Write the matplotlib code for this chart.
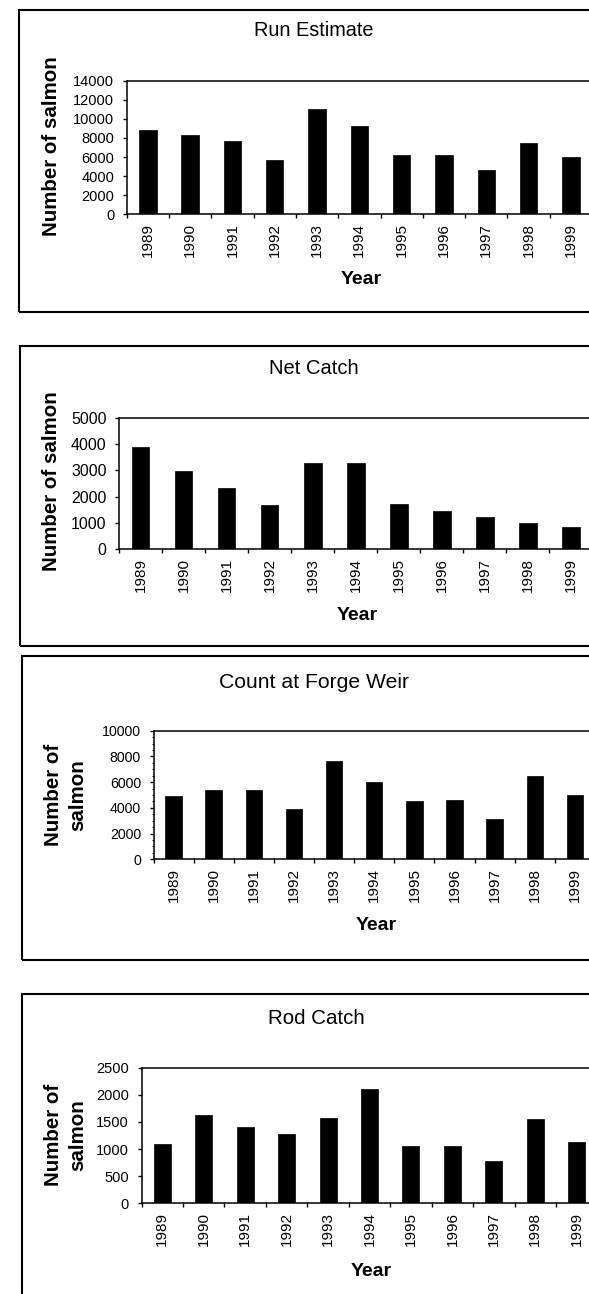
"""Salmon counts 1989-1999: four stacked Excel-style bar panels, each in its own box."""

import matplotlib
matplotlib.use("Agg")
import matplotlib.pyplot as plt
from matplotlib.patches import Rectangle
from matplotlib.ticker import FixedLocator, MultipleLocator

plt.rcParams["font.family"] = ["Liberation Sans", "DejaVu Sans"]

W, H = 589, 1294          # output size in pixels (dpi 100)

years = [str(y) for y in range(1989, 2000)]
run_estimate = [8850, 8330, 7650, 5650, 11000, 9250, 6200, 6200, 4600, 7500, 6050]
net_catch = [3870, 2990, 2320, 1690, 3290, 3290, 1730, 1440, 1230, 1000, 850]
forge_weir = [4950, 5350, 5350, 3920, 7620, 6020, 4500, 4610, 3130, 6500, 5030]
rod_catch = [1100, 1620, 1410, 1270, 1570, 2110, 1060, 1060, 780, 1550, 1130]

# layout in pixels (y from top): box, plot area, text centres
panels = [
    dict(title="Run Estimate", values=run_estimate, ymax=14000, step=2000,
         ylabel="Number of salmon", box=(19, 10, 312), area=(126.7, 80.7, 592, 214.3),
         title_xy=(314, 31), title_fs=14.3, ylab_xy=(52, 146), year_y=280,
         tick_fs=10.5, minor=None),
    dict(title="Net Catch", values=net_catch, ymax=5000, step=1000,
         ylabel="Number of salmon", box=(20, 346, 646), area=(119, 417.7, 592.5, 549.3),
         title_xy=(314, 369), title_fs=14.5, ylab_xy=(52, 481), year_y=615,
         tick_fs=11.5, minor=None),
    dict(title="Count at Forge Weir", values=forge_weir, ymax=10000, step=2000,
         ylabel="Number of\nsalmon", box=(21.7, 656, 960), area=(153.5, 730.7, 595, 859.3),
         title_xy=(314, 682), title_fs=15.2, ylab_xy=(66, 795), year_y=925,
         tick_fs=10.2, minor=500),
    dict(title="Rod Catch", values=rod_catch, ymax=2500, step=500,
         ylabel="Number of\nsalmon", box=(22.3, 994, 1310), area=(141.5, 1067.7, 597.5, 1203.3),
         title_xy=(316, 1019), title_fs=14.8, ylab_xy=(66, 1135), year_y=1271,
         tick_fs=10.5, minor=None),
]


def fx(px):
    return px / W


def fy(py):
    return 1 - py / H


fig = plt.figure(figsize=(W / 100, H / 100), dpi=100)

for p in panels:
    bl, bt, bb = p["box"]
    fig.add_artist(Rectangle((fx(bl), fy(bb)), fx(W + 40 - bl), fy(bt) - fy(bb),
                             transform=fig.transFigure, fill=False,
                             edgecolor="black", linewidth=1.5))

    l, t, r, b = p["area"]
    ax = fig.add_axes([fx(l), fy(b), fx(r - l), fy(t) - fy(b)])
    x = range(len(years))
    ax.bar(x, p["values"], width=0.41, color="black", edgecolor="black", linewidth=0.5)
    ax.set_xlim(-0.5, len(years) - 0.5)
    ax.set_ylim(0, p["ymax"])
    ax.yaxis.set_major_locator(MultipleLocator(p["step"]))
    if p["minor"]:
        ax.yaxis.set_minor_locator(MultipleLocator(p["minor"]))
        ax.tick_params(axis="y", which="minor", length=1.8, width=0.8, direction="out")
    ax.set_xticks(list(x))
    ax.set_xticklabels(years, rotation=90, fontsize=11)
    ax.xaxis.set_minor_locator(FixedLocator([i - 0.5 for i in range(len(years) + 1)]))
    ax.tick_params(axis="x", which="major", length=0, pad=6)
    ax.tick_params(axis="x", which="minor", length=3, width=1, direction="out")
    ax.tick_params(axis="y", which="major", length=3, width=1, direction="out",
                   pad=6, labelsize=p["tick_fs"])
    for s in ax.spines.values():
        s.set_linewidth(1.1)

    tx, ty = p["title_xy"]
    fig.text(fx(tx), fy(ty), p["title"], ha="center", va="center", fontsize=p["title_fs"])
    lx, ly = p["ylab_xy"]
    fig.text(fx(lx), fy(ly), p["ylabel"], ha="center", va="center", rotation=90,
             fontsize=14.8, fontweight="bold", linespacing=1.35, multialignment="center")
    fig.text(fx((l + r) / 2 + 1.5), fy(p["year_y"]), "Year", ha="center", va="center",
             fontsize=14, fontweight="bold")

fig.savefig("out.png", dpi=100, facecolor="white")
